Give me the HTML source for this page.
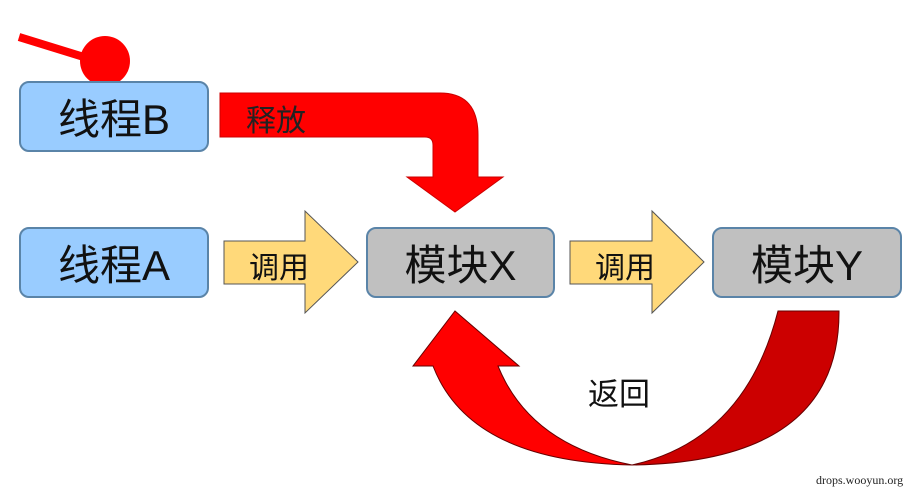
<!DOCTYPE html>
<html><head><meta charset="utf-8"><style>
body{margin:0;background:#fff;width:922px;height:494px;overflow:hidden;position:relative;font-family:"Liberation Sans","Noto Sans CJK SC",sans-serif}
.box{position:absolute;box-sizing:border-box;border:2.5px solid #5a84a8;border-radius:10px;display:flex;align-items:center;justify-content:center;font-size:42px;color:#111}
.blue{background:#99ccff}.gray{background:#c0c0c0}
</style></head><body>
<svg width="922" height="494" style="position:absolute;left:0;top:0">
<line x1="19" y1="37" x2="100" y2="62" stroke="#f00" stroke-width="8"/>
<circle cx="105" cy="61" r="25" fill="#f00"/>
<path d="M220,93 L440,93 Q478,93 478,135 L478,177 L503,177 L455,212 L407,177 L433,177 L433,145 Q433,137 425,137 L220,137 Z" fill="#f00" stroke="#c00" stroke-width="1"/>
<path d="M224,241 L305,241 L305,211 L358,262 L305,313 L305,284 L224,284 Z" fill="#ffd97a" stroke="#555" stroke-width="1"/>
<path d="M570,241 L652,241 L652,211 L704,262 L652,313 L652,284 L570,284 Z" fill="#ffd97a" stroke="#555" stroke-width="1"/>
<path d="M778,311 L839,311 Q840,462 632,465 Q745,440 778,311 Z" fill="#cc0000" stroke="#600" stroke-width="1"/>
<path d="M455,311 L519,366 L498,366 Q530,445 632,465 Q470,462 433,366 L413,366 Z" fill="#f00" stroke="#600" stroke-width="1"/>
</svg>
<div class="box blue" style="left:19px;top:81px;width:190px;height:71px">线程B</div>
<div class="box blue" style="left:19px;top:227px;width:190px;height:71px">线程A</div>
<div class="box gray" style="left:366px;top:227px;width:189px;height:71px">模块X</div>
<div class="box gray" style="left:712px;top:227px;width:190px;height:71px">模块Y</div>
<div style="position:absolute;left:246px;top:96px;font-size:30px;color:#222">释放</div>
<div style="position:absolute;left:249px;top:243px;font-size:30px;color:#111">调用</div>
<div style="position:absolute;left:595px;top:243px;font-size:30px;color:#111">调用</div>
<div style="position:absolute;left:588px;top:369px;font-size:31px;color:#111">返回</div>
<div style="position:absolute;left:816px;top:473px;font-size:12px;font-family:'Liberation Serif',serif;color:#222">drops.wooyun.org</div>
</body></html>
